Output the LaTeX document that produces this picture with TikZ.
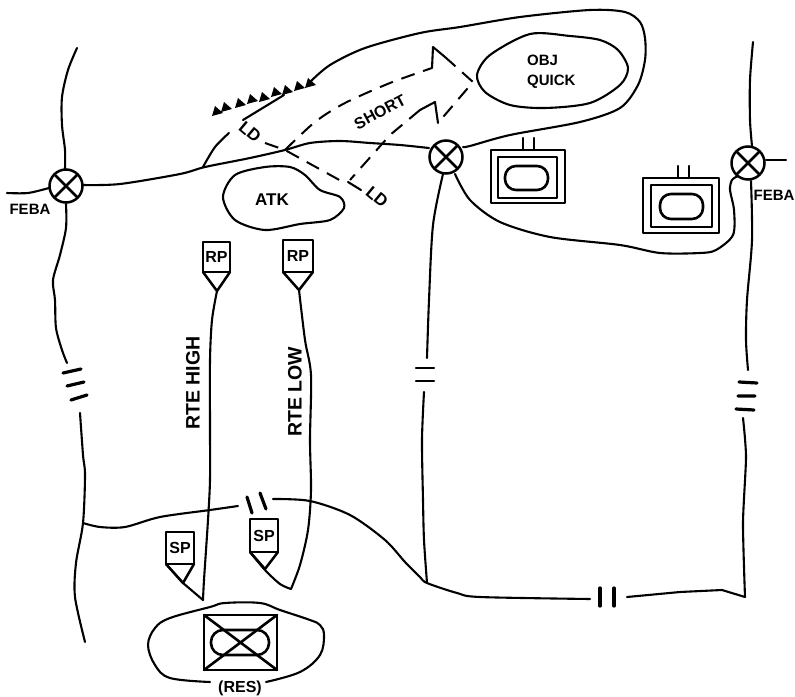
\documentclass[tikz,border=0pt]{standalone}
\usepackage{fontspec}
\setmainfont{Liberation Sans}
\usetikzlibrary{calc}
\tikzset{
  ink/.style={line width=2.1pt,line cap=round,line join=round},
  heavy/.style={line width=3.2pt,line cap=round,line join=round},
  dashline/.style={line width=2pt,dash pattern=on 14pt off 9pt},
  xing/.style={circle,draw,line width=2.5pt,minimum size=33pt,inner sep=0pt,
    path picture={
      \draw[line width=2.5pt] (path picture bounding box.north west)--(path picture bounding box.south east);
      \draw[line width=2.5pt] (path picture bounding box.north east)--(path picture bounding box.south west);}},
  lbl/.style={inner sep=0pt,font=\fontsize{15}{17}\selectfont\bfseries},
  boxlbl/.style={inner sep=0pt,font=\fontsize{16}{18}\selectfont\bfseries},
  rte/.style={inner sep=0pt,rotate=90,font=\fontsize{19.5}{21}\selectfont\bfseries},
}
\begin{document}
\begin{tikzpicture}[x=1pt,y=-1pt]
\useasboundingbox (0,0) rectangle (795,696);
% crossings
\node[xing] (xa) at (66,186) {};
\node[xing] (xb) at (446,157) {};
\node[xing] (xc) at (748,163) {};
% boundary left
\draw[ink] plot[smooth] coordinates {(77,48) (68,70) (62,97) (62,125) (65,150) (65,169)};
\draw[ink] plot[smooth] coordinates {(66,204) (66,228) (60,255) (53,280) (55,300) (56,328) (62,350) (67,363)};
\draw[heavy] (63,373)--(81,369) (67,386)--(84,382) (71,400)--(87,395);
\draw[ink] plot[smooth] coordinates {(80,413) (83,455) (85,475) (83,523) (76,563) (75,597) (85,642)};
\draw[ink] plot[smooth] coordinates {(7,193) (28,193) (49,188)};
\node[lbl] (febal) at (30,209) {FEBA};
% main line
\draw[ink] plot[smooth,tension=.5] coordinates {(83,185) (120,184) (180,174) (205,167) (250,158) (285,150) (310,143) (340,141) (370,143) (400,145) (429,148)};
% enclosure
\draw[ink] plot[smooth] coordinates {(203,167) (215,147) (229,133)};
\draw[ink] (243,120)--(284,95);
\draw[ink] plot[smooth,tension=.5] coordinates {(310,82) (330,65) (365,48) (420,33) (460,27) (520,17) (590,10) (625,12) (640,22) (645,38) (645,60) (638,85) (620,108) (580,122) (510,135) (470,146) (463,147)};
% teeth
\foreach \x/\y in {215/106,224/102,238/98,250/94,262/92,274/87,285/85,297/81,308/78}
  \fill (\x-3,\y+10)--(\x,\y)--(\x+8,\y+7)--cycle;
% objective
\draw[ink] plot[smooth cycle] coordinates {(477,75) (490,55) (530,34) (570,36) (600,40) (618,50) (628,68) (620,85) (590,103) (545,108) (510,105) (485,92)};
\node[lbl,anchor=west] (obj) at (527,60) {OBJ};
\node[lbl,anchor=west] (quick) at (527,82) {QUICK};
% atk
\draw[ink] plot[smooth cycle] coordinates {(223,197) (235,175) (265,167) (290,167) (305,175) (320,190) (340,197) (344,208) (330,220) (300,224) (265,230) (235,220)};
\node[boxlbl,font=\fontsize{17}{19}\selectfont\bfseries] (atk) at (272,200) {ATK};
% LD
\draw[dashline] (265,143)--(285,150)--(343,182);
\draw[ink] (348,182)--(361,190);
\node[boxlbl,rotate=-40,font=\fontsize{17}{19}\selectfont\bfseries] (lda) at (250,132) {LD};
\node[boxlbl,rotate=-40,font=\fontsize{17}{19}\selectfont\bfseries] (ldb) at (377,197) {LD};
\node[lbl,rotate=28,font=\fontsize{16}{18}\selectfont\bfseries] (short) at (380,112) {SHORT};
% axis
\draw[dashline] plot[smooth] coordinates {(285,150) (315,122) (345,103) (390,83) (432,68)};
\draw[ink] (432,68)--(433,47)--(445,57);
\draw[dashline] (445,57)--(473,82)--(438,123);
\draw[ink] (438,123)--(435,102)--(420,110);
\draw[dashline] (420,110)--(390,135)--(350,180);
% symbols
\foreach \n/\ax/\ay/\bx/\by/\cx/\cy/\dx/\dy/\ex/\ey/\fx/\fy/\t in {
  a/491/150/565/203/498/157/557/198/505/166/548/190/523,
  b/643/178/719/233/651/185/712/227/660/194/703/219/678}{
  \draw[ink,line width=2.6pt] (\ax,\ay) rectangle (\bx,\by);
  \draw[ink,line width=2.6pt] (\cx,\cy) rectangle (\dx,\dy);
  \draw[ink,line width=2.6pt,rounded corners=11pt] (\ex,\ey) rectangle (\fx,\fy);
  \draw[ink] (\t,\ay)--(\t,\ay-12) (\t+11,\ay)--(\t+11,\ay-12);
}
% middle vertical and curve
\draw[ink] plot[smooth] coordinates {(443,174) (433,225) (429,300) (427,358)};
\draw[ink,line width=2.5pt] (416,368)--(434,368) (416,381)--(434,381);
\draw[ink] plot[smooth] coordinates {(424,392) (422,440) (423,500) (424,540) (427,583)};
\draw[ink] plot[smooth,tension=.5] coordinates {(455,174) (470,200) (500,222) (550,237) (620,245) (660,253) (700,253) (716,250) (733,235) (734,210) (730,190) (732,180) (738,176)};
% right vertical
\draw[ink] plot[smooth] coordinates {(753,42) (750,80) (750,120) (752,146)};
\draw[ink] (766,160)--(786,160);
\node[lbl] (febar) at (774,195) {FEBA};
\draw[ink] plot[smooth] coordinates {(751,181) (752,240) (747,300) (746,340) (748,370)};
\draw[heavy] (739,382)--(757,383) (738,396)--(755,396) (736,409)--(754,410);
\draw[ink] plot[smooth,tension=.4] coordinates {(743,418) (746,457) (743,523) (745,597)};
% phase line bottom
\draw[ink] plot[smooth] coordinates {(83,523) (100,527) (125,527) (160,517) (210,510) (238,506)};
\draw[heavy] (247,497)--(252,513) (260,493)--(266,509);
\draw[ink] plot[smooth] coordinates {(273,499) (310,501) (350,515) (385,540) (405,562) (420,577) (427,583) (457,593) (480,597) (590,599)};
\draw[heavy] (600,588)--(600,606) (614,588)--(614,606);
\draw[ink] (627,597)--(680,592)--(722,590)--(745,597);
% RP / SP
\foreach \n/\lt/\x/\y/\X/\Y/\px/\py/\s in {
  rpa/203/203/242/230/272/217/291/RP,
  rpb/283/283/240/313/272/299/290/RP,
  spa/166/166/532/194/564/183/583/SP,
  spb/250/250/519/278/552/265/569/SP}{
  \draw[ink,line width=2.5pt] (\x,\y) rectangle (\X,\Y);
  \draw[ink,line width=2.5pt] (\x,\Y)--(\px,\py)--(\X,\Y);
  \node[boxlbl] (\n) at ({(\x+\X)/2},{(\y+\Y)/2}) {\s};
}
% routes
\draw[ink] plot[smooth] coordinates {(217,291) (212,320) (210,360) (210,430) (210,480) (208,520) (204,580) (203,600)};
\draw[ink] (166,564)--(183,583) -- (203,600);
\draw[ink] plot[smooth] coordinates {(299,290) (305,340) (311,375) (310,440) (311,490) (308,530) (300,565) (291,589)};
\draw[ink] plot[smooth] coordinates {(250,552) (265,570) (280,584) (291,589)};
\node[rte] (high) at (193,383) {RTE HIGH};
\node[rte] (low) at (295,392) {RTE LOW};
% reserve
\draw[ink] plot[smooth,tension=.6] coordinates {(210,682) (170,678) (155,665) (148,645) (155,628) (170,618) (210,607) (225,603) (260,603) (280,610) (310,620) (320,625) (324,635) (320,655) (300,672) (266,682)};
\node[lbl,font=\fontsize{16}{18}\selectfont\bfseries] (res) at (240,688) {(RES)};
\draw[ink,line width=2.6pt] (204,615) rectangle (277,670);
\draw[ink,line width=2.6pt] (204,615)--(277,670) (277,615)--(204,670);
\draw[ink,line width=2.6pt,rounded corners=12pt] (211,630) rectangle (269,655);
\end{tikzpicture}
\end{document}
